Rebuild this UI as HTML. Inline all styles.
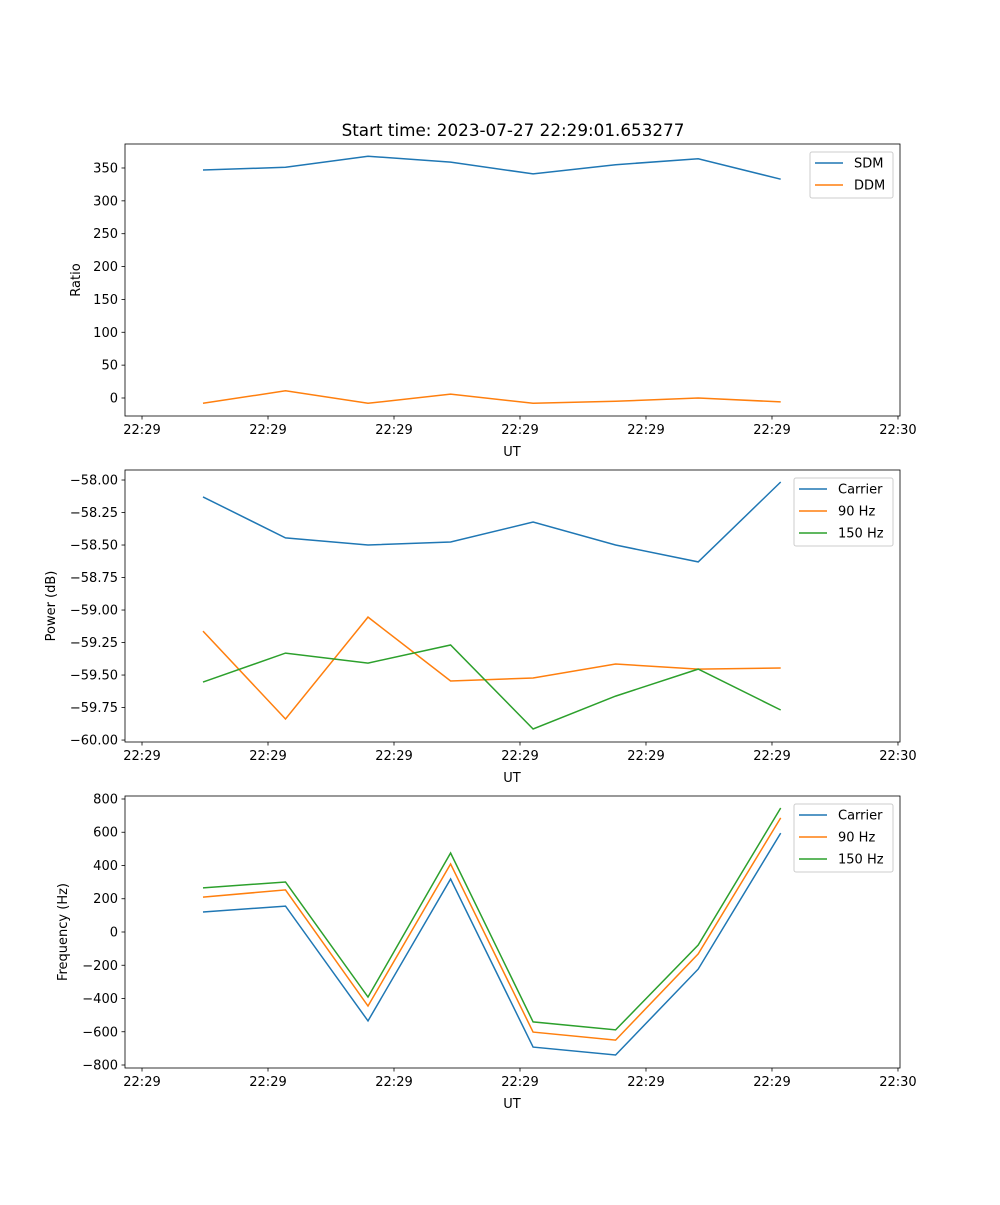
<!DOCTYPE html>
<html><head><meta charset="utf-8"><style>
body{margin:0;background:#fff;font-family:"Liberation Sans","DejaVu Sans",sans-serif;}
svg text{font-family:"DejaVu Sans","Liberation Sans",sans-serif;font-size:13px;fill:#000}
</style></head><body>
<svg id="chart" width="1000" height="1200" xmlns="http://www.w3.org/2000/svg">
<rect width="1000" height="1200" fill="#fff"/>
<text x="513" y="136" text-anchor="middle" style="font-size:16.8px">Start time: 2023-07-27 22:29:01.653277</text>
</svg>
<script>
const times = [4.84, 11.39, 17.94, 24.49, 31.04, 37.59, 44.14, 50.69];
const xTickVals = [0, 10, 20, 30, 40, 50, 60];
const xTickLabels = ["22:29","22:29","22:29","22:29","22:29","22:29","22:30"];
const sdm = [347, 351, 368, 359, 341, 355, 364, 333];
const ddm = [-8, 11, -8, 6, -8, -5, 0, -6];
const pwrCarrier = [-58.13, -58.445, -58.5, -58.477, -58.323, -58.5, -58.63, -58.015];
const pwr90 = [-59.162, -59.838, -59.054, -59.546, -59.523, -59.415, -59.454, -59.446];
const pwr150 = [-59.554, -59.331, -59.408, -59.269, -59.915, -59.662, -59.454, -59.769];
const frqCarrier = [120, 156, -535, 319, -692, -740, -223, 595];
const frq90 = [210, 253, -445, 409, -602, -650, -132, 686];
const frq150 = [265, 301, -391, 475, -541, -589, -78, 746];
const ticks1 = [0, 50, 100, 150, 200, 250, 300, 350];
const ticks2 = [-60.0, -59.75, -59.5, -59.25, -59.0, -58.75, -58.5, -58.25, -58.0];
const ticks3 = [-800, -600, -400, -200, 0, 200, 400, 600, 800];

const NS = "http://www.w3.org/2000/svg";
const svg = document.getElementById("chart");
const C = {blue:"#1f77b4", orange:"#ff7f0e", green:"#2ca02c"};
function mk(tag, attrs, parent){const e=document.createElementNS(NS,tag);for(const k in attrs)e.setAttribute(k,attrs[k]);(parent||svg).appendChild(e);return e;}
const X0=125, X1=900, xmin=-1.35, xmax=60.16;
const xs = v => X0 + (v - xmin) / (xmax - xmin) * (X1 - X0);

function panel(name, top, ymin, ymax, yticks, fmt, ylabel, ylabX, series, legend){
  const bot = top + 272;
  const ys = v => bot - (v - ymin) / (ymax - ymin) * 272;
  const g = mk("g", {});
  
  
  series.forEach(s => {
    const pts = times.map((t,i)=>xs(t).toFixed(1)+","+ys(s.data[i]).toFixed(1)).join(" ");
    const pl = mk("polyline", {points:pts, fill:"none", stroke:s.color, "stroke-width":1.5}, g);
    
    
  });
  mk("rect", {x:X0, y:top, width:X1-X0, height:272, fill:"none", stroke:"#000", "stroke-width":0.8}, g);
  xTickVals.forEach((v,i) => {
    const x = xs(v);
    mk("line", {x1:x, x2:x, y1:bot, y2:bot+3.5, stroke:"#000", "stroke-width":0.8}, g);
    const t = mk("text", {x:x, y:bot+18, "text-anchor":"middle"}, g);
    t.textContent = xTickLabels[i];
    
    
  });
  yticks.forEach(v => {
    const y = ys(v);
    mk("line", {x1:X0-3.5, x2:X0, y1:y, y2:y, stroke:"#000", "stroke-width":0.8}, g);
    const t = mk("text", {x:X0-7, y:y+4.5, "text-anchor":"end"}, g);
    t.textContent = fmt(v);
    
    
  });
  const xl = mk("text", {x:512, y:bot+40, "text-anchor":"middle"}, g);
  xl.textContent = "UT";
  
  
  const yl = mk("text", {x:ylabX, y:top+136, "text-anchor":"middle", transform:`rotate(-90 ${ylabX} ${top+136})`}, g);
  yl.textContent = ylabel;
  
  
  const lg = mk("g", {}, g);
  
  
  mk("rect", {x:legend.x, y:top+8, width:X1-7-legend.x, height:series.length*22+2, fill:"#fff", stroke:"#ccc", rx:2}, lg);
  series.forEach((s,i) => {
    const y = top + 19 + i*22;
    mk("line", {x1:legend.x+5, x2:legend.x+33, y1:y, y2:y, stroke:s.color, "stroke-width":1.5}, lg);
    const t = mk("text", {x:legend.x+44, y:y+4.5}, lg);
    t.textContent = s.label;
    
    
  });
}
panel("ratio", 144, -27.4, 386.5, ticks1, v=>String(v), "Ratio", 80,
  [{key:"sdm",label:"SDM",color:C.blue,data:sdm},{key:"ddm",label:"DDM",color:C.orange,data:ddm}], {x:810});
panel("power", 470, -60.015, -57.923, ticks2, v=>"\u2212"+Math.abs(v).toFixed(2), "Power (dB)", 55,
  [{key:"carrier",label:"Carrier",color:C.blue,data:pwrCarrier},{key:"90hz",label:"90 Hz",color:C.orange,data:pwr90},{key:"150hz",label:"150 Hz",color:C.green,data:pwr150}], {x:794});
panel("frequency", 796, -818, 818, ticks3, v=>v<0?"\u2212"+Math.abs(v):String(v), "Frequency (Hz)", 67,
  [{key:"carrier",label:"Carrier",color:C.blue,data:frqCarrier},{key:"90hz",label:"90 Hz",color:C.orange,data:frq90},{key:"150hz",label:"150 Hz",color:C.green,data:frq150}], {x:794});
</script>
</body></html>
